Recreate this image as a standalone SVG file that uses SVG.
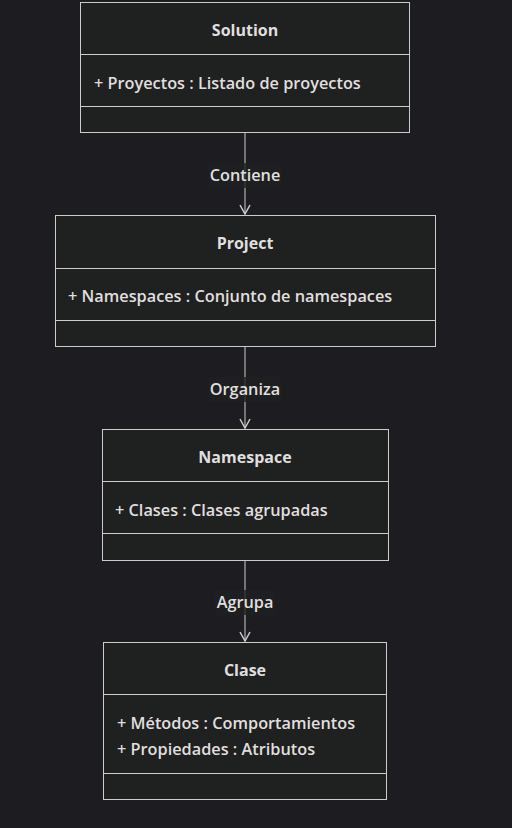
<svg xmlns="http://www.w3.org/2000/svg" width="512" height="828" viewBox="0 0 512 828">
<defs>
<marker id="arr" viewBox="0 0 12 12" markerWidth="12" markerHeight="12" refX="11" refY="6" orient="auto" markerUnits="userSpaceOnUse">
<path d="M2,1 L11,6 L2,11" fill="none" stroke="#cccccc" stroke-width="1.5"/>
</marker>
</defs>
<style>
.bg{fill:#1d1d21}
.box{fill:#1f2020;stroke:#cccccc;stroke-width:1}
.div{stroke:#cccccc;stroke-width:1}
.t{font-family:"Open Sans","Liberation Sans",Arial,sans-serif;font-size:16.3px;font-weight:600;fill:#e0dfdf}
.title{font-weight:bold;font-size:16px;text-anchor:middle}
.edge{stroke:#cccccc;stroke-width:1;fill:none}
.lblbg{fill:#1f2020;opacity:0.8}
.lbl{text-anchor:middle}
</style>
<rect class="bg" x="0" y="0" width="512" height="828"/>
<g id="connectors">
<line class="edge" x1="245" y1="133" x2="245" y2="214" marker-end="url(#arr)"/>
<rect class="lblbg" x="209" y="163" width="72" height="25"/>
<text class="t lbl" x="245" y="181">Contiene</text>
<line class="edge" x1="245" y1="346" x2="245" y2="428" marker-end="url(#arr)"/>
<rect class="lblbg" x="209" y="377" width="72" height="25"/>
<text class="t lbl" x="245" y="395">Organiza</text>
<line class="edge" x1="245" y1="560" x2="245" y2="641" marker-end="url(#arr)"/>
<rect class="lblbg" x="215" y="590" width="60" height="25"/>
<text class="t lbl" x="245" y="608">Agrupa</text>
</g>
<g id="Solution">
<rect class="box" x="80.5" y="2.5" width="329" height="130"/>
<line class="div" x1="80.5" y1="54.5" x2="409.5" y2="54.5"/>
<line class="div" x1="80.5" y1="106.5" x2="409.5" y2="106.5"/>
<text class="t title" x="245" y="36">Solution</text>
<text class="t" x="94" y="89">+ Proyectos : Listado de proyectos</text>
</g>
<g id="Project">
<rect class="box" x="55.5" y="215.5" width="380" height="131"/>
<line class="div" x1="55.5" y1="268.5" x2="435.5" y2="268.5"/>
<line class="div" x1="55.5" y1="320.5" x2="435.5" y2="320.5"/>
<text class="t title" x="245" y="249">Project</text>
<text class="t" x="68" y="302">+ Namespaces : Conjunto de namespaces</text>
</g>
<g id="Namespace">
<rect class="box" x="102.5" y="429.5" width="286" height="131"/>
<line class="div" x1="102.5" y1="481.5" x2="388.5" y2="481.5"/>
<line class="div" x1="102.5" y1="533.5" x2="388.5" y2="533.5"/>
<text class="t title" x="245" y="463">Namespace</text>
<text class="t" x="115" y="516">+ Clases : Clases agrupadas</text>
</g>
<g id="Clase">
<rect class="box" x="103.5" y="642.5" width="283" height="157"/>
<line class="div" x1="103.5" y1="694.5" x2="386.5" y2="694.5"/>
<line class="div" x1="103.5" y1="773.5" x2="386.5" y2="773.5"/>
<text class="t title" x="245" y="676">Clase</text>
<text class="t" x="117" y="729">+ Métodos : Comportamientos</text>
<text class="t" x="117" y="755">+ Propiedades : Atributos</text>
</g>
</svg>
